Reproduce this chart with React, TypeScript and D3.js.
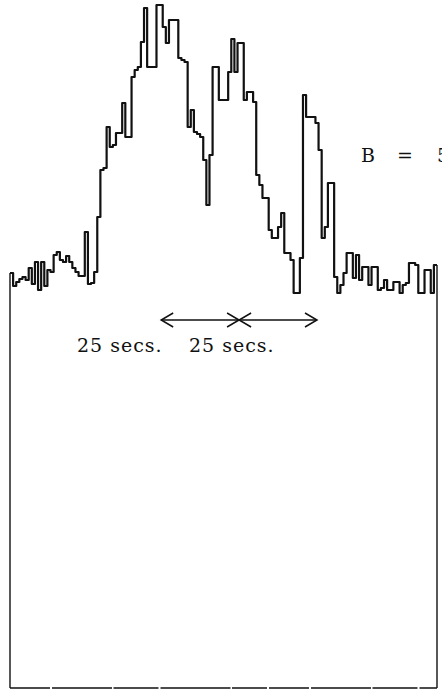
import React from "react";
import * as d3 from "d3";

// counts per 1-second bin
const counts = [
  27, 14, 18, 21, 23, 20, 32, 16, 38, 10,
  38, 14, 30, 28, 45, 48, 40, 38, 44, 38,
  32, 28, 24, 24, 68, 16, 17, 28, 83, 130,
  132, 173, 153, 155, 167, 167, 197, 163, 163, 223,
  230, 233, 258, 292, 233, 233, 233, 295, 295, 273,
  257, 280, 280, 280, 242, 240, 238, 173, 190, 168,
  166, 163, 140, 95, 145, 233, 233, 200, 200, 200,
  228, 261, 228, 257, 257, 200, 208, 208, 198, 125,
  115, 102, 102, 70, 62, 62, 73, 87, 47, 47,
  40, 7, 7, 42, 205, 183, 183, 183, 177, 150,
  62, 73, 117, 117, 23, 7, 15, 27, 47, 47,
  22, 45, 20, 33, 33, 15, 33, 33, 10, 12,
  20, 10, 10, 18, 18, 7, 15, 17, 37, 37,
  35, 7, 7, 30, 30, 7, 35,
];

// arrow marks in seconds (two spans of 25 secs)
const arrowMarks = [48.5, 73.5, 98.5];
const spanLabels = ["25 secs.", "25 secs."];
const fieldLabel = ["B", "=", "5"];

const width = 442;
const height = 698;
const frame = { left: 10, right: 437, bottom: 688 };

const xScale = d3.scaleLinear().domain([0, counts.length]).range([frame.left, frame.right]);
const yScale = d3.scaleLinear().domain([0, 300]).range([300, 0]);

const stepPoints: [number, number][] = counts.map((c, i) => [xScale(i), yScale(c)]);
stepPoints.push([xScale(counts.length), yScale(counts[counts.length - 1])]);

const stepLine = d3.line().curve(d3.curveStepAfter);

export default function App() {
  const histPath = stepLine(stepPoints) as string;
  const arrowY = 320;
  const head = 12;
  const spread = 7;
  const [a0, a1, a2] = arrowMarks.map((t) => xScale(t));
  const chevron = (x: number, dir: number) =>
    `M${x + dir * head},${arrowY - spread}L${x},${arrowY}L${x + dir * head},${arrowY + spread}`;

  return (
    <svg
      width={width}
      height={height}
      style={{ position: "absolute", left: 0, top: 0, background: "#fff" }}
    >
      {/* frame */}
      <g stroke="#111" fill="none" strokeWidth={1.4}>
        <line x1={frame.left} x2={frame.left} y1={stepPoints[0][1]} y2={frame.bottom} />
        <line x1={frame.right} x2={frame.right} y1={stepPoints[stepPoints.length - 1][1]} y2={frame.bottom} />
        <line
          x1={frame.left}
          x2={frame.right}
          y1={frame.bottom}
          y2={frame.bottom}
          strokeDasharray="40 2 60 1.5 45 2 70 1.5 35 2"
        />
      </g>

      {/* histogram trace */}
      <path d={histPath} fill="none" stroke="#111" strokeWidth={2.2} strokeLinejoin="round" />

      {/* arrows */}
      <g stroke="#111" fill="none" strokeWidth={1.5}>
        <line x1={a0} x2={a2} y1={arrowY} y2={arrowY} />
        <path d={chevron(a0, 1)} />
        <path d={chevron(a1, -1)} />
        <path d={chevron(a1, 1)} />
        <path d={chevron(a2, -1)} />
      </g>

      <g fontFamily="'DejaVu Serif', serif" fontSize={19} fill="#111" letterSpacing={1}>
        <text x={77} y={352}>{spanLabels[0]}</text>
        <text x={189} y={352}>{spanLabels[1]}</text>
        <text x={361} y={162}>{fieldLabel[0]}</text>
        <text x={397} y={162}>{fieldLabel[1]}</text>
        <text x={437} y={162}>{fieldLabel[2]}</text>
      </g>
    </svg>
  );
}
